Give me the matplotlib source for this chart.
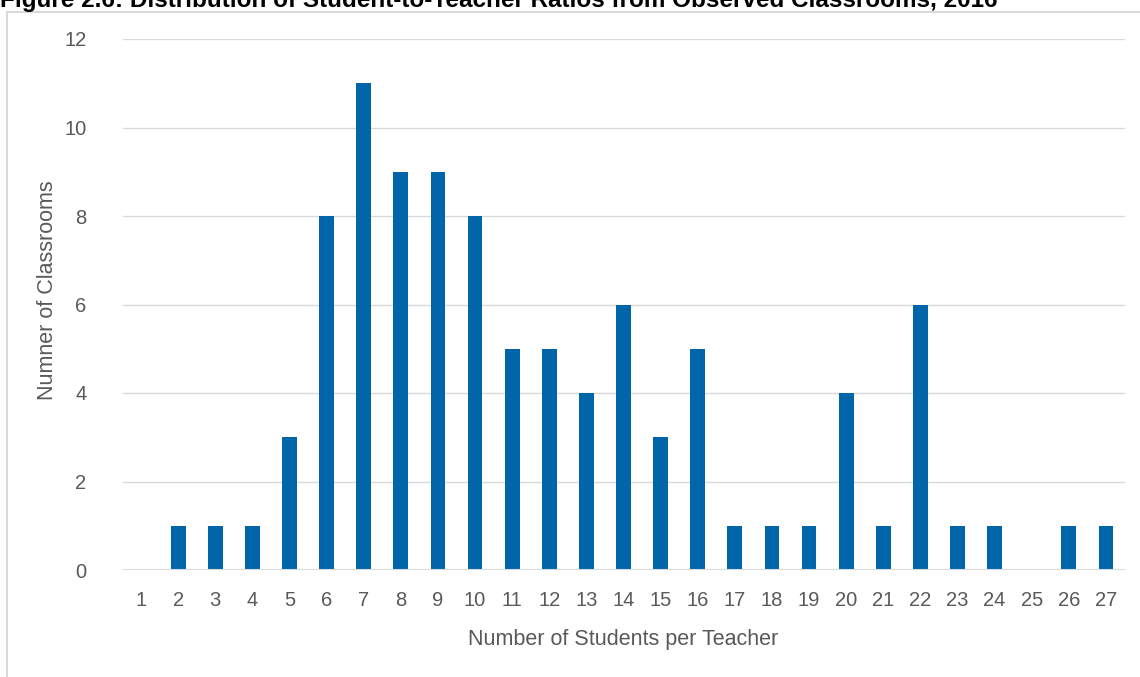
import matplotlib.pyplot as plt
from matplotlib.lines import Line2D

ratios = list(range(1, 28))
classrooms = [0, 1, 1, 1, 3, 8, 11, 9, 9, 8, 5, 5, 4, 6, 3, 5, 1, 1, 1, 4, 1, 6, 1, 1, 0, 1, 1]
yticks = [0, 2, 4, 6, 8, 10, 12]

title = "Figure 2.6: Distribution of Student-to-Teacher Ratios from Observed Classrooms, 2016"
font = ["Liberation Sans Narrow", "Liberation Sans", "DejaVu Sans"]
gray = "#595959"
grid = "#d9d9d9"

W, H = 1140, 677
fig = plt.figure(figsize=(W / 100, H / 100), dpi=100)
ax = fig.add_axes([122.5 / W, 1 - 570 / H, 1002 / W, 531 / H])

ax.bar(ratios, classrooms, width=0.4, color="#0065a9", zorder=3)
ax.set_xlim(0.5, 27.5)
ax.set_ylim(0, 12)
ax.set_xticks(ratios)
ax.set_xticklabels([str(r) for r in ratios], family=font, fontsize=14.5, color=gray)
ax.set_yticks(yticks)
ax.set_yticklabels([str(v) for v in yticks], family=font, fontsize=14.5, color=gray)
ax.tick_params(length=0, pad=15)
ax.tick_params(axis="y", pad=26)
ax.grid(axis="y", color=grid, linewidth=1)
for s in ax.spines.values():
    s.set_visible(False)
ax.axhline(0, color=grid, linewidth=1.5, zorder=4)

ax.set_xlabel("Number of Students per Teacher", family=font, fontsize=15.5, color=gray, labelpad=14)
fig.text(48 / W, 1 - 290 / H, "Numner of Classrooms", family=font, fontsize=15.5, color=gray,
         rotation=90, ha="center", va="center")

# chart frame and the caption sitting on its top edge
fig.add_artist(Line2D([7 / W, 7 / W], [0, 1 - 12 / H], color=grid, linewidth=1.5))
fig.add_artist(Line2D([7 / W, 1], [1 - 12 / H, 1 - 12 / H], color=grid, linewidth=1.5))
fig.text(0, 1 - 1 / H, title, family=["Liberation Sans", "DejaVu Sans"], fontsize=17.5,
         fontweight="bold", color="black", ha="left", va="center")

fig.savefig("out.png", dpi=100)
